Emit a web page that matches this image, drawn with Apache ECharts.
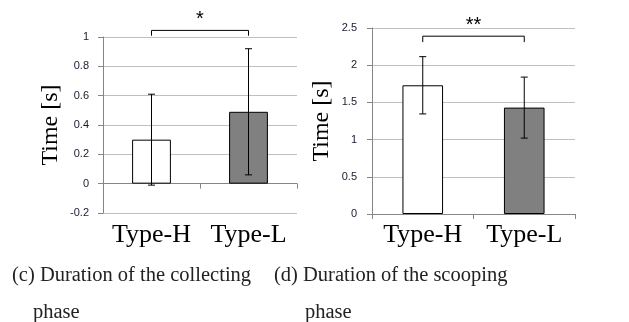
<!DOCTYPE html>
<html>
<head>
<meta charset="utf-8">
<script src="https://cdn.jsdelivr.net/npm/echarts@6/dist/echarts.min.js"></script>
<style>
  html, body { margin: 0; padding: 0; background: #fff; }
  #main { width: 629px; height: 322px; }
</style>
</head>
<body>
<div id="main"></div>
<script>
// categories and values
const categories = ['Type-H', 'Type-L'];
const barColors = ['#ffffff', '#808080'];

// (c) collecting phase
const collectMean = [0.30, 0.49];
const collectErr = [0.31, 0.43];
const collectTicks = { min: -0.2, max: 1, interval: 0.2 };
const collectSig = { label: '*', top: 1.045, leg: 1.009, star: 1.118 };

// (d) scooping phase
const scoopMean = [1.73, 1.43];
const scoopErr = [0.385, 0.41];
const scoopTicks = { min: 0, max: 2.5, interval: 0.5 };
const scoopSig = { label: '**', top: 2.39, leg: 2.31, star: 2.535 };

const captions = [
    ['(c) Duration of the collecting', 'phase'],
    ['(d) Duration of the scooping', 'phase']
];

const serif = '"Liberation Serif", "DejaVu Serif", serif';
const sans = '"Liberation Sans", Arial, sans-serif';

var chartDom = document.getElementById('main');
var myChart = echarts.init(chartDom);

function fmt(v) {
    return String(Math.round(v * 10) / 10);
}

function errorData(mean, err) {
    return mean.map((m, i) => [i, m - err[i], m + err[i]]);
}

function renderError(params, api) {
    var lo = api.coord([api.value(0), api.value(1)]);
    var hi = api.coord([api.value(0), api.value(2)]);
    var cap = 3.5;
    var style = { stroke: '#000', lineWidth: 1 };
    return {
        type: 'group',
        children: [
            { type: 'line', shape: { x1: hi[0], y1: hi[1], x2: lo[0], y2: lo[1] }, style: style },
            { type: 'line', shape: { x1: hi[0] - cap, y1: hi[1], x2: hi[0] + cap, y2: hi[1] }, style: style },
            { type: 'line', shape: { x1: lo[0] - cap, y1: lo[1], x2: lo[0] + cap, y2: lo[1] }, style: style }
        ]
    };
}

const sigLabels = [collectSig.label, scoopSig.label];

function renderBracket(params, api) {
    var a = api.coord([api.value(0), api.value(2)]);
    var b = api.coord([api.value(1), api.value(2)]);
    var aLeg = api.coord([api.value(0), api.value(3)]);
    var s = api.coord([api.value(0), api.value(4)]);
    var style = { stroke: '#000', lineWidth: 1, fill: null };
    return {
        type: 'group',
        children: [
            {
                type: 'polyline',
                shape: { points: [[a[0], aLeg[1]], [a[0], a[1]], [b[0], b[1]], [b[0], aLeg[1]]] },
                style: style
            },
            {
                type: 'text',
                style: {
                    text: sigLabels[params.seriesIndex === 2 ? 0 : 1],
                    x: (a[0] + b[0]) / 2,
                    y: s[1],
                    align: 'center',
                    verticalAlign: 'middle',
                    font: '20px ' + sans,
                    fill: '#000'
                }
            }
        ]
    };
}

function yAxisOpt(gridIndex, ticks, nameGap, labelMargin) {
    return {
        type: 'value',
        gridIndex: gridIndex,
        min: ticks.min,
        max: ticks.max,
        interval: ticks.interval,
        name: 'Time [s]',
        nameLocation: 'middle',
        nameRotate: 90,
        nameGap: nameGap,
        nameTextStyle: { fontFamily: serif, fontSize: 24, color: '#000' },
        axisLine: { show: true, lineStyle: { color: '#868686' } },
        axisTick: { show: true, length: 5, lineStyle: { color: '#868686' } },
        axisLabel: { fontFamily: sans, fontSize: 11, color: '#1a1a2e', margin: labelMargin, formatter: fmt },
        splitLine: { lineStyle: { color: '#bfbfbf' } }
    };
}

function xAxisOpt(gridIndex, labelMargin) {
    return {
        type: 'category',
        gridIndex: gridIndex,
        data: categories,
        axisLine: { onZero: true, lineStyle: { color: '#868686' } },
        axisTick: { show: true, length: 5, lineStyle: { color: '#868686' } },
        axisLabel: { interval: 0, fontFamily: serif, fontSize: 26, color: '#000', margin: labelMargin }
    };
}

function barData(mean) {
    return mean.map((v, i) => ({ value: v, itemStyle: { color: barColors[i] } }));
}

var option = {
    animation: false,
    title: [
        { text: captions[0][0], left: 12, top: 265 },
        { text: captions[0][1], left: 33, top: 302 },
        { text: captions[1][0], left: 274, top: 265 },
        { text: captions[1][1], left: 305, top: 302 }
    ].map(t => Object.assign(t, {
        padding: 0,
        textStyle: { fontFamily: serif, fontSize: 20.5, fontWeight: 'normal', color: '#222' }
    })),
    grid: [
        { left: 103, top: 37, width: 194, height: 176 },
        { left: 372, top: 28, width: 203, height: 186 }
    ],
    xAxis: [xAxisOpt(0, 9), xAxisOpt(1, 8)],
    yAxis: [yAxisOpt(0, collectTicks, 40, 14), yAxisOpt(1, scoopTicks, 38, 15)],
    series: [
        {
            type: 'bar', xAxisIndex: 0, yAxisIndex: 0, barWidth: '40%',
            itemStyle: { borderColor: '#000', borderWidth: 1 },
            data: barData(collectMean)
        },
        {
            type: 'bar', xAxisIndex: 1, yAxisIndex: 1, barWidth: '40%',
            itemStyle: { borderColor: '#000', borderWidth: 1 },
            data: barData(scoopMean)
        },
        {
            type: 'custom', xAxisIndex: 0, yAxisIndex: 0, z: 5,
            renderItem: renderBracket,
            encode: { x: [0, 1], y: [2, 3, 4] },
            data: [[0, 1, collectSig.top, collectSig.leg, collectSig.star]]
        },
        {
            type: 'custom', xAxisIndex: 1, yAxisIndex: 1, z: 5,
            renderItem: renderBracket,
            encode: { x: [0, 1], y: [2, 3, 4] },
            data: [[0, 1, scoopSig.top, scoopSig.leg, scoopSig.star]]
        },
        {
            type: 'custom', xAxisIndex: 0, yAxisIndex: 0, z: 5,
            renderItem: renderError,
            encode: { x: 0, y: [1, 2] },
            data: errorData(collectMean, collectErr)
        },
        {
            type: 'custom', xAxisIndex: 1, yAxisIndex: 1, z: 5,
            renderItem: renderError,
            encode: { x: 0, y: [1, 2] },
            data: errorData(scoopMean, scoopErr)
        }
    ]
};

myChart.setOption(option);
</script>
</body>
</html>
